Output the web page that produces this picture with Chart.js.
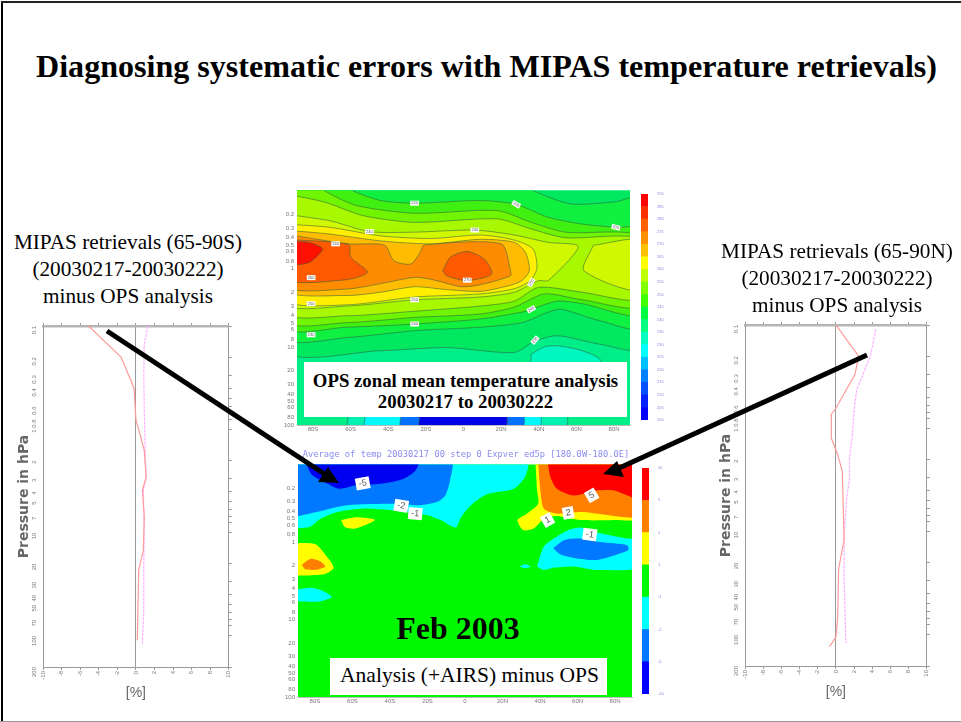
<!DOCTYPE html>
<html>
<head>
<meta charset="utf-8">
<script src="https://cdn.jsdelivr.net/npm/chart.js@4"></script>
<style>
html, body { margin: 0; padding: 0; background: #fff; }
#slide { position: relative; width: 961px; height: 722px; overflow: hidden; background: #fff;
         font-family: "Liberation Serif", serif; color: #000; }
#slide canvas { position: absolute; filter: blur(0.6px); }
.txt { position: absolute; white-space: nowrap; text-align: center; }
.box { position: absolute; background: #fff; }
#frameL { position: absolute; left: 1px; top: 1px; width: 2px; height: 721px; background: #000; }
#frameT { position: absolute; left: 1px; top: 1px; width: 960px; height: 2px; background: #222; }
#frameB { position: absolute; left: 0; top: 721px; width: 961px; height: 1px; background: #999; }
#arrows { position: absolute; left: 0; top: 0; }
</style>
</head>
<body>
<div id="slide">
  <div id="frameL"></div><div id="frameT"></div><div id="frameB"></div>
  <canvas id="topMap" width="369" height="261" style="left:267px;top:184px"></canvas>
  <canvas id="topBar" width="30" height="234" style="left:641px;top:190px"></canvas>
  <canvas id="lowMap" width="370" height="259" style="left:268px;top:458px"></canvas>
  <canvas id="lowBar" width="30" height="234" style="left:642px;top:464px"></canvas>
  <canvas id="leftProfile" width="221" height="382" style="left:16px;top:320px"></canvas>
  <canvas id="rightProfile" width="217" height="382" style="left:718px;top:319px"></canvas>

  <div class="txt" style="left:6px;width:961px;top:48px;font-size:32.1px;font-weight:bold;">Diagnosing systematic errors with MIPAS temperature retrievals)</div>
  <div class="txt" style="left:0;width:256px;top:229px;font-size:21.25px;line-height:27px;">MIPAS retrievals (65-90S)<br>(20030217-20030222)<br>minus OPS analysis</div>
  <div class="txt" style="left:707px;width:260px;top:238px;font-size:21.25px;line-height:27px;">MIPAS retrievals (65-90N)<br>(20030217-20030222)<br>minus OPS analysis</div>
  <div class="box" style="left:304px;top:362px;width:323px;height:55px;"></div>
  <div class="txt" style="left:304px;width:323px;top:370px;font-size:18.8px;line-height:21px;font-weight:bold;">OPS zonal mean temperature analysis<br>20030217 to 20030222</div>
  <div class="txt" style="left:298px;width:336px;top:449px;font-size:8.75px;color:#8a8cf0;font-family:'DejaVu Sans Mono',monospace;filter:blur(0.4px);">Average of temp 20030217 00 step 0 Expver ed5p [180.0W-180.0E]</div>
  <div class="txt" style="left:298px;width:320px;top:610px;font-size:32px;font-weight:bold;">Feb 2003</div>
  <div class="box" style="left:330px;top:658px;width:277px;height:37px;"></div>
  <div class="txt" style="left:331px;width:277px;top:663px;font-size:21.5px;">Analysis (+AIRS) minus OPS</div>

  <svg id="arrows" width="961" height="722">
    <line x1="107" y1="331" x2="326" y2="475" stroke="#000" stroke-width="5"/>
    <polygon points="339,483 318,482 328,467" fill="#000"/>
    <line x1="867" y1="355" x2="617" y2="469" stroke="#000" stroke-width="5"/>
    <polygon points="603,474 617,461 624,477" fill="#000"/>
  </svg>
</div>

<script>
// axis ticks
const latTicks = [-80, -60, -40, -20, 0, 20, 40, 60, 80];
const latLabels = ["80S", "60S", "40S", "20S", "0", "20N", "40N", "60N", "80N"];
const mapPressTicks = [0.2, 0.3, 0.4, 0.5, 0.6, 0.8, 1, 2, 3, 4, 5, 6, 8, 10, 20, 30, 40, 50, 60, 80, 100];
const profPressTicks = [0.1, 0.2, 0.3, 0.4, 0.5, 0.6, 0.7, 0.8, 1, 2, 3, 4, 5, 6, 7, 8, 10, 20, 30, 40, 50, 60, 70, 80, 100, 200];
const profPressLabelled = [0.1, 0.2, 0.3, 0.4, 0.6, 0.8, 1, 2, 3, 4, 5, 7, 10, 20, 30, 40, 50, 70, 100, 200];
const percentTicks = [-10, -8, -6, -4, -2, 0, 2, 4, 6, 8, 10];

// profile lines, [percent, hPa]
const leftRed = [[-5.1,0.1],[-1.6,0.2],[-0.2,0.4],[0,0.8],[0.9,1.6],[1.1,2.9],[0.7,3.9],[0.9,7],[0.8,15],[0.3,23],[0.15,110]];
const leftMagenta = [[1.3,0.1],[0.9,0.15],[0.85,0.3],[0.9,0.65],[1,1.6],[1.1,2.9],[0.8,3.9],[0.9,9],[0.85,20],[0.85,56],[0.7,120]];
const rightRed = [[0,0.1],[2.5,0.2],[2.1,0.3],[0,0.64],[-0.5,0.73],[-0.5,1.25],[0.15,1.75],[0.7,2.6],[0.9,12],[0.3,23],[0.2,66],[0,105],[-0.7,130]];
const rightMagenta = [[4.4,0.11],[3.8,0.2],[2.3,0.42],[2,0.66],[1.8,1.2],[1.5,1.9],[1.5,3.1],[1.2,4.6],[0.9,11],[0.9,27],[1.1,120]];

// upper panel, temperature bands as [lat, hPa] outlines, coldest first
const topBase = [[-95,0.09],[95,0.09],[95,110],[-95,110]];
const topBand1 = [[-95,0.09],[95,0.09],[95,10.2],[72,9.2],[50,7.2],[38,8.4],[27,11.8],[-9,10.2],[-44,11.2],[-95,11.2]];
const topBand2 = [[-95,0.09],[37,0.09],[37,0.1],[57,0.148],[80,0.14],[95,0.125],[95,5.6],[72,4.6],[52,3.3],[45,3.6],[31,4.9],[9,5.6],[-26,6.2],[-62,7.6],[-95,7.6]];
const topBand3 = [[-59,0.09],[-59,0.1],[-44,0.134],[-26,0.145],[9,0.134],[28,0.15],[45,0.22],[63,0.268],[81,0.295],[95,0.31],[95,3.8],[63,2.8],[50,2.6],[36,3.3],[31,3.6],[9,4.4],[-26,5.1],[-62,5.6],[-95,5.6],[-95,0.09]];
const topBand4 = [[-74,0.09],[-74,0.1],[-57,0.155],[-26,0.195],[18,0.18],[36,0.255],[54,0.34],[95,0.396],[95,3],[63,2.5],[43,2.1],[27,3.1],[9,3.8],[-26,4.2],[-62,4.9],[-95,4.6],[-95,0.09]];
const topBand5 = [[-95,0.11],[-74,0.14],[-53,0.21],[-26,0.255],[18,0.23],[36,0.31],[54,0.4],[95,0.43],[95,2.4],[63,2],[40,1.73],[27,2.6],[9,3],[-26,3.5],[-62,4],[-95,3.6]];
const topBand6 = [[-95,0.2],[-71,0.243],[-50,0.335],[-26,0.34],[6,0.32],[27,0.37],[45,0.46],[61,0.52],[45,1.42],[40,1.42],[27,2],[9,2.3],[-26,2.5],[-62,3],[-95,2.8]];
const topPatch = [[69,0.5],[95,0.44],[95,1.91],[64,1.06]];
const topBand7 = [[-95,0.268],[-71,0.295],[-44,0.38],[-17,0.41],[9,0.37],[27,0.43],[37,0.56],[39,1],[35,1.45],[27,1.8],[9,2.1],[-26,2.3],[-62,2.9],[-95,2.5]];
const topBand8 = [[-95,0.32],[-71,0.36],[-44,0.44],[-17,0.48],[9,0.42],[27,0.46],[33,0.62],[35,1.06],[31,1.42],[24,1.65],[9,1.95],[-9,1.85],[-26,1.7],[-44,2],[-62,2.2],[-95,1.9]];
const topBand9 = [[-95,0.36],[-61,0.48],[-42,0.5],[-37,0.79],[-28,0.87],[-23,0.62],[-21,0.5],[20,0.48],[25,1.06],[25,1.23],[9,1.6],[-1,1.7],[-17,1.37],[-26,1.29],[-44,1.55],[-62,1.82],[-95,1.7]];
const topBand10 = [[-95,0.42],[-61,0.49],[-60,0.71],[-51,1.11],[-62,1.38],[-95,1.38]];
const topCore = [[-11,1.06],[-7,0.71],[2,0.6],[11,0.75],[15,1.17],[2,1.42],[-9,1.23]];
const topBand11 = [[-95,0.45],[-82,0.46],[-75,0.56],[-82,0.83],[-95,0.87]];
const topTeal = [[36,12.4],[43,10],[50,9.7],[63,11.2],[73,15],[73,40],[36,40]];
const topCold1 = [[-61,70],[54,70],[54,110],[-61,110]];
const topCold2 = [[-52,70],[40,70],[40,110],[-52,110]];
const topCold3 = [[-33,70],[31,70],[31,110],[-33,110]];
const topCold4 = [[-23,70],[22,70],[22,110],[-23,110]];
const topBandColors = ["#00ee88","#00e860","#10f040","#40f010","#70f400","#a8f800","#d0f800","#d0f800","#ffee00","#ffbc00","#ff8c00","#ff5a00","#ff5a00","#ff1000","#00f8c0","#00f0b0","#00f8ff","#0070ff","#0000e8"];

// lower panel, difference regions as [lat, hPa] outlines
const lowBase = [[-95,0.09],[95,0.09],[95,110],[-95,110]];
const lowCyanTop = [[-95,0.67],[-83,0.64],[-77,0.5],[-68,0.41],[-54,0.37],[-38,0.39],[-20,0.45],[-13,0.52],[-5,0.65],[-2,0.47],[4,0.32],[12,0.24],[26,0.205],[32,0.145],[33,0.09],[-95,0.09]];
const lowBlueTop = [[-95,0.5],[-79,0.41],[-63,0.335],[-38,0.32],[-24,0.335],[-15,0.305],[-10.5,0.25],[-8,0.16],[-7.5,0.09],[-95,0.09]];
const lowDarkTop = [[-85,0.09],[-82,0.132],[-75,0.168],[-67,0.205],[-58,0.185],[-45,0.177],[-33,0.153],[-26.5,0.12],[-25,0.09]];
const lowYellowTop = [[37.5,0.09],[38.4,0.215],[39,0.32],[33,0.43],[28,0.52],[31,0.7],[36.6,0.67],[42,0.5],[49,0.46],[61.5,0.52],[79,0.52],[95,0.48],[95,0.09]];
const lowOrangeTop = [[39,0.09],[40,0.195],[42,0.37],[49,0.43],[62,0.41],[95,0.45],[95,0.09]];
const lowRedTop = [[44,0.09],[45.5,0.145],[49,0.205],[58,0.25],[70.5,0.215],[79,0.215],[95,0.28],[95,0.09]];
const lowCyanRight = [[38.4,2.07],[42,1.15],[49,0.85],[56,0.69],[61.5,0.65],[72,0.77],[86.5,0.9],[95,0.94],[95,2.07],[70.5,2.3],[58,2.07],[47,2.15],[42,2.3]];
const lowBlueRight = [[47,1.2],[53,0.94],[61.5,0.9],[72,1],[86.5,1.1],[87,1.27],[81,1.45],[70.5,1.7],[58,1.6],[51,1.45]];
const lowCyanDot = [[29,2.07],[32,1.93],[35,2.07],[32,2.17]];
const lowYellowSpot = [[-66,0.52],[-57.5,0.48],[-48,0.52],[-58.5,0.67],[-64,0.64]];
const lowYellowLeft = [[-95,1.04],[-80,1.06],[-74.5,1.45],[-70,2.15],[-75,2.6],[-95,2.5]];
const lowOrangeLeft = [[-87,1.97],[-82.5,1.65],[-77,1.78],[-74.5,2.07],[-79,2.27],[-85,2.25]];
const lowCyanLeft = [[-95,4.3],[-82,3.9],[-75.5,4.3],[-71,5.1],[-79,5.9],[-95,5.5]];
const lowColors = ["#00f800","#00ffff","#0078ff","#0000f0","#ffff00","#ff8000","#ff0000","#00ffff","#0078ff","#00ffff","#ffff00","#ffff00","#ff8000","#00ffff"];

// contour labels: lat, hPa, text, angle
const topLabels = [[-26,0.145,"220",0],[28,0.15,"220",30],[-50,0.335,"240",0],[6,0.32,"240",0],[-68,0.48,"260",0],[-81,1.3,"260",0],[2,1.4,"270",0],[36,1.5,"250",-60],[-81,2.8,"250",0],[-26,2.5,"250",0],[36,3.3,"240",-30],[-26,5.1,"240",0],[-81,7,"230",0],[38,8.2,"230",-50],[81,0.295,"230",15]];
const lowLabels = [[-54.5,0.175,"-5",-10],[-34,0.34,"-2",10],[-26.5,0.43,"-1",5],[67.5,0.25,"5",-30],[55,0.42,"2",-10],[44,0.52,"1",-30],[66.5,0.8,"-1",8]];

// colour bars
const topBarColors = ["#0000ff","#0020ff","#0050ff","#0080ff","#00c0ff","#00ffff","#00ffc0","#00ff80","#00ff40","#40ff00","#80ff00","#c0ff00","#ffff00","#ffc000","#ff9000","#ff6000","#ff3000","#ff0000"];
const topBarLabels = ["200","205","210","215","220","225","230","235","240","245","250","255","260","265","270","275","280","285","290"];
const lowBarColors = ["#0000ff","#0078ff","#00ffff","#00f800","#ffff00","#ff8000","#ff0000"];
const lowBarLabels = ["-10","-5","-2","-1","1","2","5","10"];

const tinyFont = { family: "'Liberation Sans', sans-serif", size: 6 };

function closed(points) {
    return points.concat([points[0]]).map(p => ({ x: p[0], y: p[1] }));
}

function labelPlugin(labels, size, pad) {
    return {
        id: "contourLabels",
        afterDatasetsDraw(chart) {
            const ctx = chart.ctx;
            ctx.save();
            ctx.beginPath();
            ctx.rect(chart.chartArea.left, chart.chartArea.top, chart.chartArea.width, chart.chartArea.height);
            ctx.clip();
            ctx.font = size + "px 'Liberation Sans', sans-serif";
            ctx.textAlign = "center";
            ctx.textBaseline = "middle";
            labels.forEach(l => {
                const px = chart.scales.x.getPixelForValue(l[0]);
                const py = chart.scales.y.getPixelForValue(l[1]);
                const w = ctx.measureText(l[2]).width + pad * 2;
                const h = size + pad;
                ctx.save();
                ctx.translate(px, py);
                ctx.rotate(l[3] * Math.PI / 180);
                ctx.fillStyle = "#fff";
                ctx.fillRect(-w / 2, -h / 2, w, h);
                ctx.fillStyle = "#555";
                ctx.fillText(l[2], 0, 0);
                ctx.restore();
            });
            ctx.restore();
        }
    };
}

function buildMap(id, bands, colors, lineColor, labels, xMax, labelSize, labelPad) {
    new Chart(document.getElementById(id), {
        type: "scatter",
        data: {
            datasets: bands.map((b, i) => ({
                data: closed(b),
                showLine: true,
                fill: "shape",
                backgroundColor: colors[i],
                borderColor: lineColor,
                borderWidth: lineColor ? 1 : 0,
                pointRadius: 0,
                tension: 0.25,
                order: bands.length - i
            }))
        },
        options: {
            responsive: false,
            animation: false,
            layout: { autoPadding: false, padding: { top: 6, right: 6 } },
            plugins: { legend: { display: false }, tooltip: { enabled: false } },
            scales: {
                x: {
                    type: "linear",
                    min: -xMax,
                    max: xMax,
                    afterBuildTicks: s => { s.ticks = latTicks.map(v => ({ value: v })); },
                    afterFit: s => { s.height = 20; },
                    grid: { display: false, drawTicks: false },
                    border: { color: "#bbb" },
                    ticks: {
                        autoSkip: false,
                        maxRotation: 0,
                        padding: 1,
                        font: tinyFont,
                        color: "#777",
                        callback: v => latLabels[latTicks.indexOf(v)]
                    }
                },
                y: {
                    type: "logarithmic",
                    reverse: true,
                    min: 0.1,
                    max: 100,
                    afterBuildTicks: s => { s.ticks = mapPressTicks.map(v => ({ value: v })); },
                    afterFit: s => { s.width = 30; },
                    grid: { display: false, drawTicks: false },
                    border: { color: "#bbb" },
                    ticks: {
                        autoSkip: false,
                        font: tinyFont,
                        color: "#777",
                        padding: 3,
                        callback: v => String(v)
                    }
                }
            }
        },
        plugins: [labelPlugin(labels, labelSize, labelPad)]
    });
}

function buildBar(id, colors, labels) {
    new Chart(document.getElementById(id), {
        type: "bar",
        data: {
            labels: [""],
            datasets: colors.map(c => ({
                data: [1],
                backgroundColor: c,
                barPercentage: 1,
                categoryPercentage: 1,
                stack: "bar"
            }))
        },
        options: {
            responsive: false,
            animation: false,
            layout: { autoPadding: false, padding: { top: 4, bottom: 4 } },
            plugins: { legend: { display: false }, tooltip: { enabled: false } },
            scales: {
                x: { stacked: true, display: false },
                y: {
                    stacked: true,
                    position: "right",
                    min: 0,
                    max: colors.length,
                    afterFit: s => { s.width = 23; },
                    grid: { display: false },
                    border: { display: false },
                    ticks: {
                        stepSize: 1,
                        autoSkip: false,
                        font: { family: "'Liberation Sans', sans-serif", size: 4 },
                        color: "#8888dd",
                        padding: 1,
                        callback: v => labels[v]
                    }
                }
            }
        }
    });
}

function buildProfile(id, red, magenta) {
    const pressTicks = s => { s.ticks = profPressTicks.map(v => ({ value: v })); };
    const percent = s => { s.ticks = percentTicks.map(v => ({ value: v })); };
    new Chart(document.getElementById(id), {
        type: "scatter",
        data: {
            datasets: [
                { data: red.map(p => ({ x: p[0], y: p[1] })), showLine: true, borderColor: "#ff9a9a", borderWidth: 1.2, pointRadius: 0 },
                { data: magenta.map(p => ({ x: p[0], y: p[1] })), showLine: true, borderColor: "#ffb0ff", borderWidth: 1.2, borderDash: [3, 1], pointRadius: 0 }
            ]
        },
        options: {
            responsive: false,
            animation: false,
            layout: { autoPadding: false, padding: { top: 6 } },
            plugins: { legend: { display: false }, tooltip: { enabled: false } },
            scales: {
                x: {
                    type: "linear",
                    min: -10,
                    max: 10,
                    afterBuildTicks: percent,
                    afterFit: s => { s.height = 35; },
                    border: { color: "#999" },
                    grid: {
                        color: c => c.tick && c.tick.value === 0 ? "#999" : "rgba(0,0,0,0)",
                        tickColor: "#999",
                        tickLength: 3
                    },
                    title: { display: true, text: "[%]", color: "#666", padding: 0, font: { family: "'Liberation Sans', sans-serif", size: 14 } },
                    ticks: {
                        autoSkip: false,
                        maxRotation: 90,
                        minRotation: 90,
                        font: tinyFont,
                        color: "#777",
                        padding: 1,
                        callback: v => String(v)
                    }
                },
                xTop: {
                    type: "linear",
                    position: "top",
                    min: -10,
                    max: 10,
                    afterBuildTicks: percent,
                    afterFit: s => { s.height = 0; },
                    border: { color: "#b5b5b5", width: 2.5 },
                    grid: { drawOnChartArea: false, tickColor: "#999", tickLength: 3 },
                    ticks: { display: false }
                },
                y: {
                    type: "logarithmic",
                    reverse: true,
                    min: 0.1,
                    max: 200,
                    afterBuildTicks: pressTicks,
                    afterFit: s => { s.width = 27; },
                    border: { color: "#999" },
                    grid: { display: false },
                    title: { display: true, text: "Pressure in hPa", color: "#666", padding: 0, font: { family: "'DejaVu Sans', sans-serif", size: 14, weight: "bold" } },
                    ticks: {
                        autoSkip: false,
                        maxRotation: 90,
                        minRotation: 90,
                        font: tinyFont,
                        color: "#777",
                        padding: 1,
                        callback: v => profPressLabelled.includes(v) ? String(v) : ""
                    }
                },
                yRight: {
                    type: "logarithmic",
                    position: "right",
                    reverse: true,
                    min: 0.1,
                    max: 200,
                    afterBuildTicks: pressTicks,
                    afterFit: s => { s.width = 6; },
                    border: { color: "#999" },
                    grid: { drawOnChartArea: false, tickColor: "#999", tickLength: 3 },
                    ticks: { display: false }
                }
            }
        }
    });
}

buildMap("topMap",
    [topBase, topBand1, topBand2, topBand3, topBand4, topBand5, topBand6, topPatch, topBand7, topBand8, topBand9, topBand10, topCore, topBand11, topTeal, topCold1, topCold2, topCold3, topCold4],
    topBandColors, "rgba(50,95,70,0.55)", topLabels, 88.5, 4, 1);
buildMap("lowMap",
    [lowBase, lowCyanTop, lowBlueTop, lowDarkTop, lowYellowTop, lowOrangeTop, lowRedTop, lowCyanRight, lowBlueRight, lowCyanDot, lowYellowSpot, lowYellowLeft, lowOrangeLeft, lowCyanLeft],
    lowColors, null, lowLabels, 89, 9, 3);
buildBar("topBar", topBarColors, topBarLabels);
buildBar("lowBar", lowBarColors, lowBarLabels);
buildProfile("leftProfile", leftRed, leftMagenta);
buildProfile("rightProfile", rightRed, rightMagenta);
</script>
</body>
</html>
